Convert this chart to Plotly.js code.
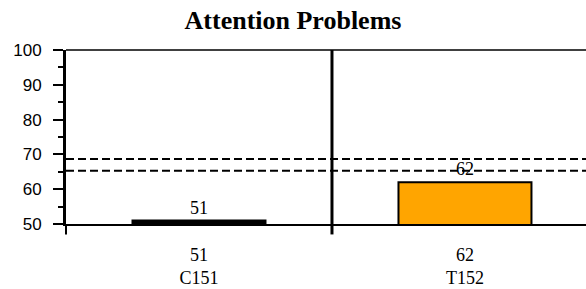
<!DOCTYPE html>
<html>
<head>
<meta charset="utf-8">
<script src="https://cdn.plot.ly/plotly-3.0.1.min.js"></script>
<style>html,body{margin:0;padding:0;background:#fff;overflow:hidden}#chart{width:586px;height:289px}</style>
</head>
<body>
<div id="chart"></div>
<script>
const titleText = 'Attention Problems';
const categories = ['C151', 'T152'];
const scores = [51, 62];
const barColors = ['#000000', '#FFA500'];
const cutoffs = [68.7, 65.3];
const yTicks = [50, 60, 70, 80, 90, 100];

const xIdx = categories.map((c, i) => i);
const tickText = categories.map((c, i) => scores[i] + '<br>' + c);

const trace = {
  type: 'bar',
  x: xIdx,
  y: scores,
  width: 0.5,
  marker: {color: barColors, line: {color: '#000', width: 2}},
  text: scores.map(String),
  textposition: 'outside',
  cliponaxis: false,
  textfont: {family: 'Liberation Serif, Times New Roman, serif', size: 18, color: '#000'},
  hoverinfo: 'none'
};

const shapes = cutoffs.map(v => ({
  type: 'line', xref: 'paper', yref: 'y', x0: 0, x1: 1, y0: v, y1: v,
  line: {color: '#000', width: 2, dash: '8px,4px'}
}));
// divider between categories
shapes.push({type: 'line', xref: 'x', yref: 'paper', x0: 0.5, x1: 0.5, y0: -0.06, y1: 1,
  line: {color: '#000', width: 3}});
// left axis extension below
shapes.push({type: 'line', xref: 'paper', yref: 'paper', x0: 0, x1: 0, y0: -0.06, y1: 0,
  line: {color: '#000', width: 2}});
// top border
shapes.push({type: 'line', xref: 'paper', yref: 'paper', x0: 0, x1: 1, y0: 1, y1: 1,
  line: {color: '#000', width: 1.5}});

const layout = {
  width: 586, height: 289,
  margin: {l: 66, r: 0, t: 50, b: 65},
  paper_bgcolor: '#fff', plot_bgcolor: '#fff',
  showlegend: false,
  title: {text: '<b>' + titleText + '</b>', x: 0.5, xanchor: 'center', y: 0.93, yanchor: 'middle',
    font: {family: 'Liberation Serif, Times New Roman, serif', size: 26, color: '#000'}},
  xaxis: {
    range: [-0.5, 1.455],
    tickvals: xIdx, ticktext: tickText,
    ticks: '', showgrid: false, zeroline: false,
    showline: true, linecolor: '#000', linewidth: 2,
    tickfont: {family: 'Liberation Serif, Times New Roman, serif', size: 18, color: '#000'},
    ticklabelstandoff: 13
  },
  yaxis: {
    range: [50, 100],
    tickvals: yTicks,
    ticks: 'outside', ticklen: 10, tickwidth: 2, tickcolor: '#000',
    minor: {dtick: 5, ticks: 'outside', ticklen: 5, tickwidth: 2, tickcolor: '#000', showgrid: false},
    showgrid: false, zeroline: false,
    showline: true, linecolor: '#000', linewidth: 3,
    tickfont: {family: 'Liberation Sans, Arial, sans-serif', size: 17, color: '#000'},
    ticklabelstandoff: 8
  },
  shapes: shapes
};

Plotly.newPlot('chart', [trace], layout, {staticPlot: true, displayModeBar: false});
</script>
</body>
</html>
